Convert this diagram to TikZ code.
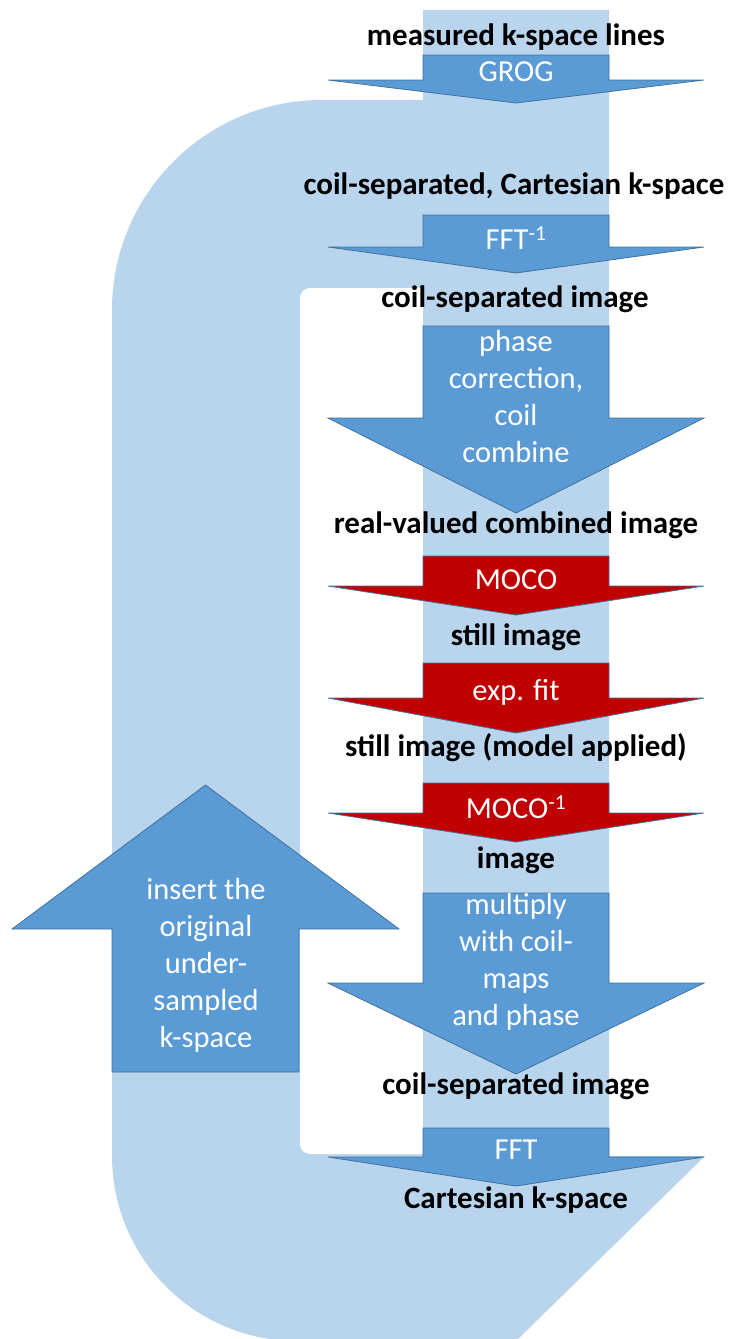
\documentclass[tikz,border=0pt]{standalone}
\usepackage{fontspec}
\setmainfont{Carlito}
\definecolor{lightb}{RGB}{185,212,237}
\definecolor{midb}{RGB}{91,155,213}
\definecolor{edgeb}{RGB}{65,113,156}
\definecolor{redb}{RGB}{192,0,0}
\begin{document}
\begin{tikzpicture}[x=1pt,y=-1pt,
  blockarrow/.style={draw=edgeb,line width=0.8pt,line join=miter},
  lab/.style={font=\fontsize{31}{37}\selectfont\bfseries,text=black,inner sep=0pt},
  wtxt/.style={font=\fontsize{30.5}{37}\selectfont,text=white,inner sep=0pt,align=center}]
\useasboundingbox (0,0) rectangle (732,1339);
\clip (0,0) rectangle (732,1339);
% big light-blue loop shape
\fill[lightb] (423,10) -- (609,10) -- (609,1156) -- (705,1156) -- (516,1341) -- (297,1341)
  .. controls (195,1341) and (112,1258) .. (112,1156) -- (112,310)
  .. controls (112,194) and (206,100) .. (322,100) -- (423,100) -- cycle;
% white inner cut-out
\fill[white, rounded corners=10pt] (300,288) rectangle (440,1154);
\fill[lightb] (423,280) rectangle (609,1160);
% down block arrows: top, shoulder, tip
\newcommand\dnarrow[4]{\draw[blockarrow,fill=#4] (423,#1) -- (609,#1) -- (609,#2) -- (704,#2) -- (516,#3) -- (328,#2) -- (423,#2) -- cycle;}
\dnarrow{55}{80}{103}{midb}
\dnarrow{215}{247}{273}{midb}
\dnarrow{326}{418}{513}{midb}
\dnarrow{556}{586}{615}{redb}
\dnarrow{663}{698}{733}{redb}
\dnarrow{783}{813}{842}{redb}
\dnarrow{893}{983}{1074}{midb}
\dnarrow{1128}{1157}{1186}{midb}
% up block arrow
\draw[blockarrow,fill=midb] (112,1072) -- (112,929) -- (12,929) -- (205.5,785) -- (399,929) -- (299,929) -- (299,1072) -- cycle;
% labels
\node[lab] (l1) at (516,37) {measured k-space lines};
\node[wtxt] (t1) at (516,72) {GROG};
\node[lab] (l2) at (514,186) {coil-separated, Cartesian k-space};
\node[wtxt] (t2) at (516,238) {FFT\textsuperscript{-1}};
\node[lab] (l3) at (515,299) {coil-separated image};
\node[wtxt] (t3) at (516,397) {phase\\correction,\\coil\\combine};
\node[lab] (l4) at (516,525) {real-valued combined image};
\node[wtxt] (t4) at (516,580) {MOCO};
\node[lab] (l5) at (516,637) {still image};
\node[wtxt] (t5) at (516,692) {exp. fit};
\node[lab] (l6) at (516,748) {still image (model applied)};
\node[wtxt] (t6) at (516,807) {MOCO\textsuperscript{-1}};
\node[lab] (l7) at (516,860) {image};
\node[wtxt] (t7) at (516,962) {multiply\\with coil-\\maps\\and phase};
\node[lab] (l8) at (516,1086) {coil-separated image};
\node[wtxt] (t8) at (516,1150) {FFT};
\node[lab] (l9) at (516,1200) {Cartesian k-space};
\node[wtxt] (t9) at (206,965) {insert the\\original\\under-\\sampled\\k-space};
\end{tikzpicture}
\end{document}
